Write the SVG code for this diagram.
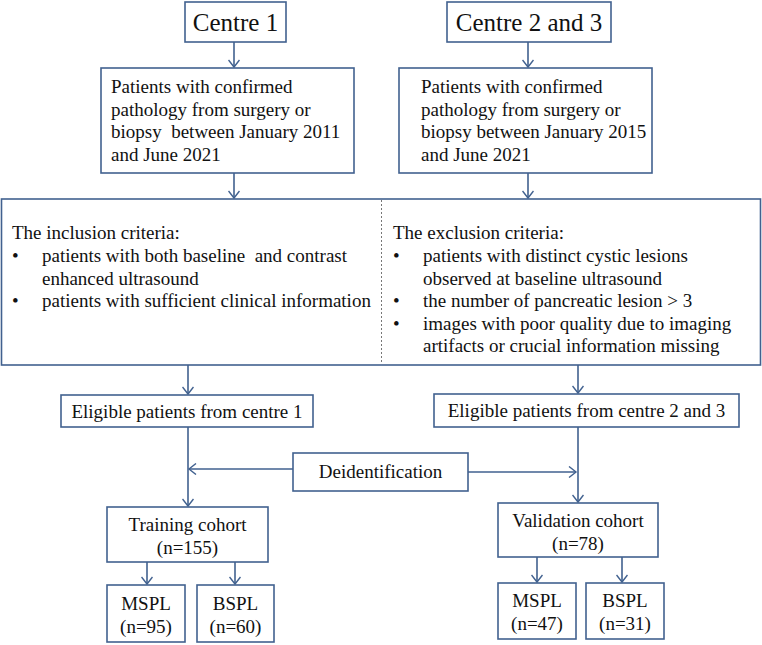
<svg xmlns="http://www.w3.org/2000/svg" width="762" height="645" viewBox="0 0 762 645">
<style>
.box{fill:#fff;stroke:#41618F;stroke-width:1.6}
.t{font-family:"Liberation Serif","Times New Roman",serif;font-size:19px;fill:#111;white-space:pre}
.big{font-size:25px}
.c{text-anchor:middle}
.ln{stroke:#41618F;stroke-width:1.6;fill:none}
</style>
<defs>
<marker id="ah" markerUnits="userSpaceOnUse" markerWidth="12" markerHeight="12" viewBox="0 0 8 12" refX="7.5" refY="6" orient="auto">
<path d="M0.5,0.5 L7.5,6 L0.5,11.5" fill="none" stroke="#41618F" stroke-width="1.4"/>
</marker>
</defs>
<rect width="762" height="645" fill="#fff"/>

<g id="connectors">
<line class="ln" x1="234" y1="42" x2="234" y2="67" marker-end="url(#ah)"/>
<line class="ln" x1="528" y1="42" x2="528" y2="67" marker-end="url(#ah)"/>
<line class="ln" x1="234" y1="173" x2="234" y2="198" marker-end="url(#ah)"/>
<line class="ln" x1="528" y1="173" x2="528" y2="198" marker-end="url(#ah)"/>
<line class="ln" x1="188" y1="365" x2="188" y2="394" marker-end="url(#ah)"/>
<line class="ln" x1="578" y1="365" x2="578" y2="393" marker-end="url(#ah)"/>
<line class="ln" x1="188" y1="427" x2="188" y2="506" marker-end="url(#ah)"/>
<line class="ln" x1="578" y1="427" x2="578" y2="502" marker-end="url(#ah)"/>
<line class="ln" x1="293" y1="469" x2="189" y2="469" marker-end="url(#ah)"/>
<line class="ln" x1="468" y1="472" x2="576" y2="472" marker-end="url(#ah)"/>
<line class="ln" x1="147" y1="562" x2="147" y2="584" marker-end="url(#ah)"/>
<line class="ln" x1="235" y1="562" x2="235" y2="584" marker-end="url(#ah)"/>
<line class="ln" x1="537" y1="557" x2="537" y2="582" marker-end="url(#ah)"/>
<line class="ln" x1="622" y1="557" x2="622" y2="582" marker-end="url(#ah)"/>
</g>

<g id="centre1">
<rect class="box" x="185" y="2" width="101" height="40"/>
<text class="t big c" x="235.5" y="31">Centre 1</text>
</g>
<g id="centre23">
<rect class="box" x="447" y="2" width="164" height="40"/>
<text class="t big c" x="529" y="31">Centre 2 and 3</text>
</g>

<g id="patients1">
<rect class="box" x="101" y="68" width="253" height="105"/>
<text class="t" x="111" y="93">Patients with confirmed</text>
<text class="t" x="111" y="115.5">pathology from surgery or</text>
<text class="t" x="111" y="138" xml:space="preserve">biopsy  between January 2011</text>
<text class="t" x="111" y="160.5">and June 2021</text>
</g>
<g id="patients23">
<rect class="box" x="399" y="68" width="253" height="105"/>
<text class="t" x="421" y="93">Patients with confirmed</text>
<text class="t" x="421" y="115.5">pathology from surgery or</text>
<text class="t" x="421" y="138">biopsy between January 2015</text>
<text class="t" x="421" y="160.5">and June 2021</text>
</g>

<g id="criteria">
<rect class="box" x="1.5" y="199" width="759" height="166"/>
<line x1="381.5" y1="200" x2="381.5" y2="364" stroke="#777" stroke-width="1" stroke-dasharray="2,2"/>
<text class="t" x="12" y="239">The inclusion criteria:</text>
<text class="t" x="12" y="262">•</text>
<text class="t" x="42" y="262" xml:space="preserve">patients with both baseline  and contrast</text>
<text class="t" x="42" y="284.5">enhanced ultrasound</text>
<text class="t" x="12" y="307">•</text>
<text class="t" x="42" y="307">patients with sufficient clinical information</text>
<text class="t" x="393" y="239">The exclusion criteria:</text>
<text class="t" x="393" y="262">•</text>
<text class="t" x="423" y="262">patients with distinct cystic lesions</text>
<text class="t" x="423" y="284.5">observed at baseline ultrasound</text>
<text class="t" x="393" y="307">•</text>
<text class="t" x="423" y="307">the number of pancreatic lesion &gt; 3</text>
<text class="t" x="393" y="329.5">•</text>
<text class="t" x="423" y="329.5">images with poor quality due to imaging</text>
<text class="t" x="423" y="352">artifacts or crucial information missing</text>
</g>

<g id="eligible1">
<rect class="box" x="61" y="395" width="252" height="32"/>
<text class="t c" x="187" y="418">Eligible patients from centre 1</text>
</g>
<g id="eligible23">
<rect class="box" x="434" y="394" width="305" height="33"/>
<text class="t c" x="586.5" y="417">Eligible patients from centre 2 and 3</text>
</g>

<g id="deidentification">
<rect class="box" x="293" y="453" width="175" height="38"/>
<text class="t c" x="380.5" y="478">Deidentification</text>
</g>

<g id="training">
<rect class="box" x="107" y="507" width="161" height="55"/>
<text class="t c" x="187.5" y="531">Training cohort</text>
<text class="t c" x="187.5" y="554">(n=155)</text>
</g>
<g id="validation">
<rect class="box" x="498" y="503" width="160" height="54"/>
<text class="t c" x="578" y="527">Validation cohort</text>
<text class="t c" x="578" y="550">(n=78)</text>
</g>

<g id="mspl1">
<rect class="box" x="107" y="585" width="78" height="57"/>
<text class="t c" x="146" y="610">MSPL</text>
<text class="t c" x="146" y="633">(n=95)</text>
</g>
<g id="bspl1">
<rect class="box" x="197" y="585" width="77" height="57"/>
<text class="t c" x="235.5" y="610">BSPL</text>
<text class="t c" x="235.5" y="633">(n=60)</text>
</g>
<g id="mspl2">
<rect class="box" x="498" y="583" width="78" height="56"/>
<text class="t c" x="537" y="607">MSPL</text>
<text class="t c" x="537" y="630">(n=47)</text>
</g>
<g id="bspl2">
<rect class="box" x="586" y="583" width="78" height="56"/>
<text class="t c" x="625" y="607">BSPL</text>
<text class="t c" x="625" y="630">(n=31)</text>
</g>
</svg>
